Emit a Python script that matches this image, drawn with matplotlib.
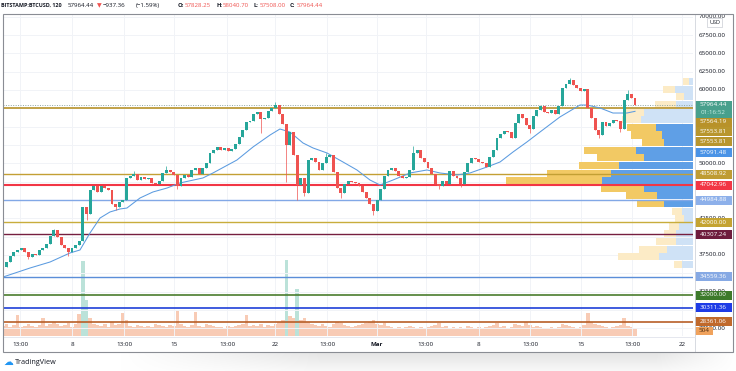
import numpy as np
import matplotlib
matplotlib.use('Agg')
import matplotlib.pyplot as plt
from matplotlib.patches import Rectangle
from matplotlib.lines import Line2D
from matplotlib.transforms import blended_transform_factory

plt.rcParams['font.family'] = ['Open Sans', 'DejaVu Sans']

# BTCUSD, candles at 6h steps, time = days from Feb 1 2021
t0 = 2.25
step = 0.25
first_open = 35700
closes = [
    35900, 36550, 37350, 37900, 38200, 38450, 37900, 37200, 37600, 37500,
    38200, 38450, 39000, 40100, 40900, 39950, 38850, 38450, 37900, 38450,
    38850, 39400, 44050, 43100, 46350, 46900, 46100, 46900, 46650, 46350,
    44450, 44050, 44700, 45000, 48000, 48250, 48550, 47700, 48150, 47850,
    48000, 47300, 47200, 47600, 48700, 49100, 48800, 48400, 46900, 48000,
    48400, 48150, 49100, 49350, 48550, 49350, 50050, 51400, 51800, 52200,
    51800, 52100, 51700, 51950, 52650, 53600, 54550, 55650, 55800, 56750,
    57000, 56050, 56200, 57150, 57550, 57950, 56750, 55350, 52500, 54250,
    51150, 47050, 48000, 45950, 50450, 50700, 50200, 49100, 50050, 50850,
    51150, 48800, 46650, 45950, 47200, 47600, 47450, 47300, 46900, 46100,
    45250, 44450, 43500, 45000, 46500, 48250, 49100, 49350, 48950, 48250,
    48000, 48150, 49100, 51400, 51800, 50700, 50200, 49350, 48550, 47200,
    46900, 47600, 47200, 48950, 48250, 48000, 47200, 48800, 50050, 50700,
    50600, 50200, 50050, 49500, 50850, 51800, 53450, 54000, 54400, 54250,
    53450, 55500, 56750, 56200, 55250, 54700, 56450, 57250, 57800, 57000,
    56850, 57250, 56750, 57800, 60250, 60800, 61350, 60700, 60250, 59850,
    60150, 57550, 56200, 54550, 53850, 55650, 55100, 55500, 55900, 55750,
    54700, 58650, 59450, 58900, 57964.44]
wick_low = {7: 36900, 18: 37400, 23: 42300, 31: 43700, 48: 46500, 71: 54100,
            78: 47450, 81: 45000, 83: 45500, 93: 45300, 102: 43000, 120: 46500,
            126: 46800, 145: 54200, 164: 53500, 170: 54300}
wick_high = {14: 41100, 36: 48900, 45: 49600, 75: 58350, 89: 51400, 113: 52300,
             156: 61700, 172: 60000}
volume = [
    10, 12, 9, 11, 21, 9, 10, 12, 10, 9,
    11, 18, 10, 12, 14, 12, 10, 11, 13, 9,
    12, 22, 75, 36, 18, 12, 11, 10, 12, 9,
    14, 11, 12, 23, 16, 10, 9, 11, 10, 9,
    10, 9, 12, 11, 10, 9, 11, 10, 26, 12,
    10, 9, 11, 24, 10, 9, 12, 11, 10, 9,
    9, 8, 10, 9, 10, 11, 12, 21, 10, 11,
    10, 12, 9, 11, 10, 12, 14, 16, 76, 20,
    18, 47, 16, 18, 14, 12, 11, 10, 12, 10,
    9, 12, 14, 13, 11, 10, 9, 10, 11, 12,
    13, 14, 16, 12, 11, 13, 10, 9, 8, 9,
    8, 9, 10, 9, 8, 9, 8, 9, 10, 11,
    13, 9, 10, 8, 9, 8, 9, 8, 10, 9,
    8, 9, 8, 9, 10, 11, 13, 9, 10, 8,
    9, 12, 11, 10, 14, 11, 9, 10, 9, 8,
    8, 9, 8, 9, 12, 11, 10, 9, 8, 9,
    11, 23, 14, 12, 11, 10, 9, 8, 9, 10,
    11, 18, 10, 9, 8]

ma_days = [2.25, 4.11, 5.49, 6.86, 7.55, 8.24, 8.93, 9.61, 10.30, 10.78, 11.68,
           12.57, 13.54, 14.43, 16.01, 16.70, 18.35, 19.46, 20.63, 21.31, 22.00,
           22.90, 23.59, 24.55, 25.65, 26.61, 27.51, 28.20, 29.09, 30.26, 31.43,
           32.33, 33.50, 34.39, 35.56, 36.46, 37.35, 38.31, 39.21, 40.58, 41.96,
           42.44, 43.34, 44.23, 45.19, 45.75]
ma_vals = [34490, 35720, 36540, 37770, 38180, 40500, 42540, 43360, 43770, 43900,
           45270, 46090, 46630, 47320, 48000, 48680, 50450, 52230, 53860, 54680,
           54270, 52770, 52090, 51410, 50180, 49090, 47720, 47040, 47720, 48680,
           49090, 48680, 48410, 48680, 49500, 50180, 51540, 52910, 54270, 56320,
           57950, 57950, 57550, 56860, 56860, 57091]

levels = [57564.19, 48508.92, 47042.96, 44984.88, 42000.00, 40307.24,
          34559.36, 32000.00, 30311.36, 28361.06]
level_colors = ['#b8922a', '#c39f34', '#f23645', '#82a8e6', '#c8ad3c', '#761f40',
                '#5b8ed8', '#4a7d2e', '#1f3fd8', '#b85f28']
level_widths = [1.2, 1.0, 1.5, 1.0, 1.0, 1.0, 1.0, 1.2, 1.2, 1.2]
last_price = 57964.44

# right side price labels
box_texts = ['57564.19', '57553.81', '57553.81', '57091.48', '48508.92', '47042.96',
             '44984.88', '42000.00', '40307.24', '34559.36', '32000.00',
             '30311.36', '28361.06']
box_colors = ['#b8922a', '#b8962e', '#b8962e', '#4a93e6', '#bf9c33', '#f23645',
              '#8db0ea', '#c4a331', '#6e1c3d', '#86a9e4', '#3d7a2b',
              '#1e3be6', '#c0692b']
box_ypx = [122, 131.7, 141.7, 152, 174, 185, 200, 222, 234, 276, 295, 307.7, 321.7]

# volume profile rows, top to bottom
vp_top = 61640
vp_step = 1037
vp_up = [4, 18, 9, 17, 49, 52, 37, 31, 29, 57, 49, 74, 82, 91, 49, 36, 29,
         11, 9, 14, 17, 17, 26, 34, 11]
vp_down = [6, 12, 8, 21, 20, 19, 29, 31, 22, 52, 47, 40, 64, 96, 43, 31, 27,
           10, 9, 10, 12, 20, 28, 41, 8]
vp_value_area = [0, 0, 0, 0, 0, 0, 1, 1, 1, 1, 1, 1, 1, 1, 1, 1, 1,
                 0, 0, 0, 0, 0, 0, 0, 0]

tick_days = [3.42, 7, 10.58, 14, 17.67, 21, 24.55, 28, 31.36, 35, 38.52, 42, 45.54, 49]
tick_labels = ['13:00', '8', '13:00', '15', '13:00', '22', '13:00', 'Mar',
               '13:00', '8', '13:00', '15', '13:00', '22']
grid_prices = np.arange(27500, 70001, 2500)
# price labels the axis still shows (the rest sit under the level boxes)
price_labels = [70000, 67500, 65000, 62500, 60000, 50000, 42500, 37500, 32500, 27500]

W, H = 736, 371
fig = plt.figure(figsize=(W / 100, H / 100), dpi=100)
fig.patch.set_facecolor('white')


def frect(x0, y0, x1, y1):
    return [x0 / W, 1 - y1 / H, (x1 - x0) / W, (y1 - y0) / H]


rect = frect(3, 14, 693, 336)
vax = fig.add_axes(rect)
ax = fig.add_axes(rect, sharex=vax)
ax.set_zorder(vax.get_zorder() + 1)
ax.patch.set_visible(False)
ax.set_xlim(2.2505, 49.74)
ax.set_ylim(26446, 70366)
vax.set_ylim(0, 322)
for a in (ax, vax):
    a.set_xticks([])
    a.set_yticks([])
    for s in a.spines.values():
        s.set_visible(False)

# grid
for p in grid_prices:
    ax.axhline(p, color='#f1f3f7', lw=0.7, zorder=0)
for d in tick_days:
    ax.axvline(d, color='#f1f3f7', lw=0.7, zorder=0)

n = len(closes)
days = t0 + step * np.arange(n)
closes = np.array(closes, dtype=float)
opens = np.concatenate([[first_open], closes[:-1]])

# volume
vol = np.array(volume, dtype=float)
vcol = ['#9fd6c9' if v >= 30 else '#f6b596' for v in vol]
vax.bar(days, vol, width=step, color=vcol, alpha=0.7, linewidth=0)

# volume profile (anchored to right edge, widths in px)
trans_vp = blended_transform_factory(ax.transAxes, ax.transData)
for k in range(len(vp_up)):
    ytop = vp_top - k * vp_step
    y0 = ytop - vp_step + 40
    h = vp_step - 80
    strong = vp_value_area[k] == 1
    cb = '#5f9fe6' if strong else '#cfe2f6'
    cy = '#f2c964' if strong else '#fcebc6'
    bw = vp_up[k] / 690
    yw = vp_down[k] / 690
    ax.add_patch(Rectangle((1 - bw, y0), bw, h, transform=trans_vp,
                           facecolor=cb, edgecolor='none', zorder=1))
    ax.add_patch(Rectangle((1 - bw - yw, y0), yw, h, transform=trans_vp,
                           facecolor=cy, edgecolor='none', zorder=1))

# horizontal levels
for lv, c, lw in zip(levels, level_colors, level_widths):
    ax.axhline(lv, color=c, lw=lw, zorder=2)
ax.axhline(last_price, color='#8fa6a0', lw=0.7, ls=(0, (1, 1.5)), zorder=2)

# moving average
ax.plot(ma_days, ma_vals, color='#5b9be0', lw=0.75, zorder=3)

# candles
up = closes >= opens
ccol = np.where(up, '#26a69a', '#ef5350')
lo = np.minimum(opens, closes)
hi = np.maximum(opens, closes)
wl = np.array([wick_low.get(i, lo[i]) for i in range(n)])
wh = np.array([wick_high.get(i, hi[i]) for i in range(n)])
ax.vlines(days, wl, wh, colors=ccol, lw=0.5, zorder=4)
ax.bar(days, np.maximum(hi - lo, 80), bottom=lo, width=0.2, color=ccol,
       linewidth=0, zorder=5)

# price axis texts
tr_price = blended_transform_factory(fig.transFigure, ax.transData)
for p in price_labels:
    fig.text(699 / W, p, '%.2f' % p, transform=tr_price, fontsize=4.5,
             color='#131722', va='center', ha='left', zorder=2)


def box(ypx, h, color, x0=695, x1=732):
    fig.add_artist(Rectangle((x0 / W, 1 - (ypx + h / 2) / H), (x1 - x0) / W, h / H,
                             transform=fig.transFigure, facecolor=color,
                             edgecolor='none', zorder=5))


for t, c, y in zip(box_texts, box_colors, box_ypx):
    box(y, 9, c)
    fig.text(713.5 / W, 1 - y / H, t, fontsize=4.5, color='white', ha='center',
             va='center', zorder=6)
box(109, 17, '#48a08c')
fig.text(713.5 / W, 1 - 105 / H, '%.2f' % last_price, fontsize=4.5, color='white',
         ha='center', va='center', zorder=6)
fig.text(713.5 / W, 1 - 113 / H, '01:16:52', fontsize=4.5, color='#c9ece3',
         ha='center', va='center', zorder=6)
box(330.5, 8, '#f0a25c', x0=695, x1=713)
fig.text(704 / W, 1 - 330.5 / H, '504', fontsize=4.5, color='#4a2a10',
         ha='center', va='center', zorder=6)
fig.add_artist(Rectangle((707 / W, 1 - 27 / H), 15 / W, 9 / H, transform=fig.transFigure,
                         facecolor='white', edgecolor='#c9ccd3', lw=0.5, zorder=5))
fig.text(714.5 / W, 1 - 22.5 / H, 'USD', fontsize=4, color='#131722', ha='center',
         va='center', zorder=6)

# time axis
tr_time = blended_transform_factory(ax.transData, fig.transFigure)
for d, lab in zip(tick_days, tick_labels):
    fig.text(d, 1 - 345 / H, lab, transform=tr_time, fontsize=4.5, color='#131722',
             ha='center', va='center', fontweight='bold' if lab == 'Mar' else 'normal')

# frame and separators
fig.add_artist(Rectangle((3 / W, 1 - 352 / H), 730 / W, 338 / H, transform=fig.transFigure,
                         fill=False, edgecolor='#8a8d94', lw=0.8, zorder=8))
fig.add_artist(Line2D([695 / W, 695 / W], [1 - 14 / H, 1 - 352 / H], color='#d1d4dc',
                      lw=0.6, zorder=7))
fig.add_artist(Line2D([3 / W, 695 / W], [1 - 336.5 / H, 1 - 336.5 / H], color='#e0e3eb',
                      lw=0.6, zorder=7))

# title
title_parts = [(1, 'BITSTAMP:BTCUSD, 120', '#131722', 'bold', 3.9),
               (68, '57964.44', '#131722', 'normal', 4.4),
               (97, '\u25bc', '#ef5350', 'normal', 4.4),
               (103, '\u2212937.36', '#131722', 'normal', 4.4),
               (136, '(\u22121.59%)', '#131722', 'normal', 4.4),
               (178, 'O:', '#131722', 'bold', 4.2), (185, '57828.25', '#ef5350', 'normal', 4.4),
               (216, 'H:', '#131722', 'bold', 4.2), (223, '58040.70', '#ef5350', 'normal', 4.4),
               (254, 'L:', '#131722', 'bold', 4.2), (260, '57508.00', '#ef5350', 'normal', 4.4),
               (290, 'C:', '#131722', 'bold', 4.2), (297, '57964.44', '#ef5350', 'normal', 4.4)]
for x, s, c, fw, fs in title_parts:
    fig.text(x / W, 1 - 5.5 / H, s, fontsize=fs, color=c, fontweight=fw,
             ha='left', va='center')

# shadow below the frame
sax = fig.add_axes(frect(0, 353, 736, 371))
gx = np.clip(np.minimum((np.arange(736) - 120) / 200, (736 - np.arange(736)) / 80), 0, 1)
gy = np.linspace(1, 0.3, 18)[:, None]
shade = 1 - 0.1 * gy * gx[None, :]
sax.imshow(np.dstack([shade] * 3), aspect='auto', extent=(0, 1, 0, 1))
sax.set_axis_off()

fig.text(8 / W, 1 - 362 / H, '\u2601', fontsize=7, color='#2196f3', ha='center',
         va='center')
fig.text(15 / W, 1 - 362 / H, 'TradingView', fontsize=5.2, color='#131722',
         ha='left', va='center')

fig.savefig('out.png', dpi=100)
